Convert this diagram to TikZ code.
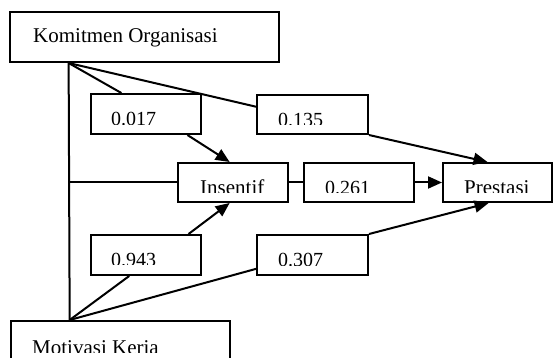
\documentclass[tikz,border=0pt]{standalone}
\usepackage{fontspec}
\setmainfont{Liberation Serif}
\usetikzlibrary{arrows.meta,calc}
\tikzset{
  box/.style={draw, line width=2pt, rectangle, inner sep=0pt},
  lbl/.style={anchor=base west, inner sep=0pt, font=\fontsize{21}{25}\selectfont},
  num/.style={lbl, font=\fontsize{20}{24}\selectfont},
  conn/.style={line width=2pt},
  arr/.style={line width=2pt, -{Triangle[length=14pt,width=12pt]}},
}
% \mkbox{name}{x1}{y1}{x2}{y2}
\newcommand\mkbox[5]{%
  \node[box, minimum width=#4-#2, minimum height=#5-#3] (#1) at ({(#2+#4)/2},{(#3+#5)/2}) {};}
% \cliplabel[style]{name}{x1}{y1}{x2}{clipy}{tx}{baseline}{text}
\newcommand\cliplabel[9][lbl]{%
  \begin{scope}\clip (#3,#4) rectangle (#5,#6);
  \node[#1] (#2) at (#7,#8) {#9};\end{scope}}
\begin{document}
\begin{tikzpicture}[x=1pt,y=-1pt]
\clip (0,0) rectangle (554,358);
\fill[white] (0,0) rectangle (554,358);
% boxes
\mkbox{ko}{10}{12}{279}{62}
\mkbox{b017}{91}{94}{201}{134}
\mkbox{b135}{257}{95}{368}{134}
\mkbox{ins}{178}{163}{288}{202}
\mkbox{b261}{304}{163}{414}{202}
\mkbox{pre}{443}{163}{552}{202}
\mkbox{b943}{91}{235}{201}{275}
\mkbox{b307}{257}{235}{368}{275}
\mkbox{mk}{11}{321}{230}{380}
% texts
\cliplabel{tko}{10}{12}{279}{62}{33}{42.7}{Komitmen Organisasi}
\cliplabel[num]{t017}{91}{94}{201}{124.5}{111}{126}{0.017}
\cliplabel[num]{t135}{257}{95}{368}{125}{278}{126.5}{0.135}
\cliplabel{tins}{178}{163}{288}{193}{200}{194.5}{Insentif}
\cliplabel[num]{t261}{304}{163}{414}{193}{325}{194.5}{0.261}
\cliplabel{tpre}{443}{163}{552}{193}{464}{194.5}{Prestasi}
\cliplabel[num]{t943}{91}{235}{201}{264.5}{111}{266}{0.943}
\cliplabel[num]{t307}{257}{235}{368}{265}{278}{266.5}{0.307}
\cliplabel{tmk}{11}{321}{230}{352}{32}{354}{Motivasi Keria}
% junctions
\coordinate (kb) at ($(ko.south west)!0.22!(ko.south east)$);
\coordinate (mb) at ($(mk.north west)!0.27!(mk.north east)$);
\coordinate (kv) at (kb |- ins.west);
% connectors
\draw[conn] (kb) -- (mb);
\draw[conn] (kb) -- ($(b017.north west)!0.28!(b017.north east)$);
\draw[conn] (kb) -- ($(b135.north west)!0.31!(b135.south west)$);
\draw[conn] (kv) -- (ins.west);
\draw[conn] (ins.east) -- (b261.west);
\draw[conn] (mb) -- ($(b943.south west)!0.35!(b943.south east)$);
\draw[conn] (mb) -- ($(b307.north west)!0.83!(b307.south west)$);
\draw[arr] ($(b017.south west)!0.87!(b017.south east)$) -- ($(ins.north west)!0.47!(ins.north east)$);
\draw[arr] (b135.south east) -- ($(pre.north west)!0.41!(pre.north east)$);
\draw[arr] (b261.east) -- (pre.west);
\draw[arr] ($(b943.north west)!0.88!(b943.north east)$) -- ($(ins.south west)!0.47!(ins.south east)$);
\draw[arr] (b307.north east) -- ($(pre.south west)!0.42!(pre.south east)$);
\end{tikzpicture}
\end{document}
